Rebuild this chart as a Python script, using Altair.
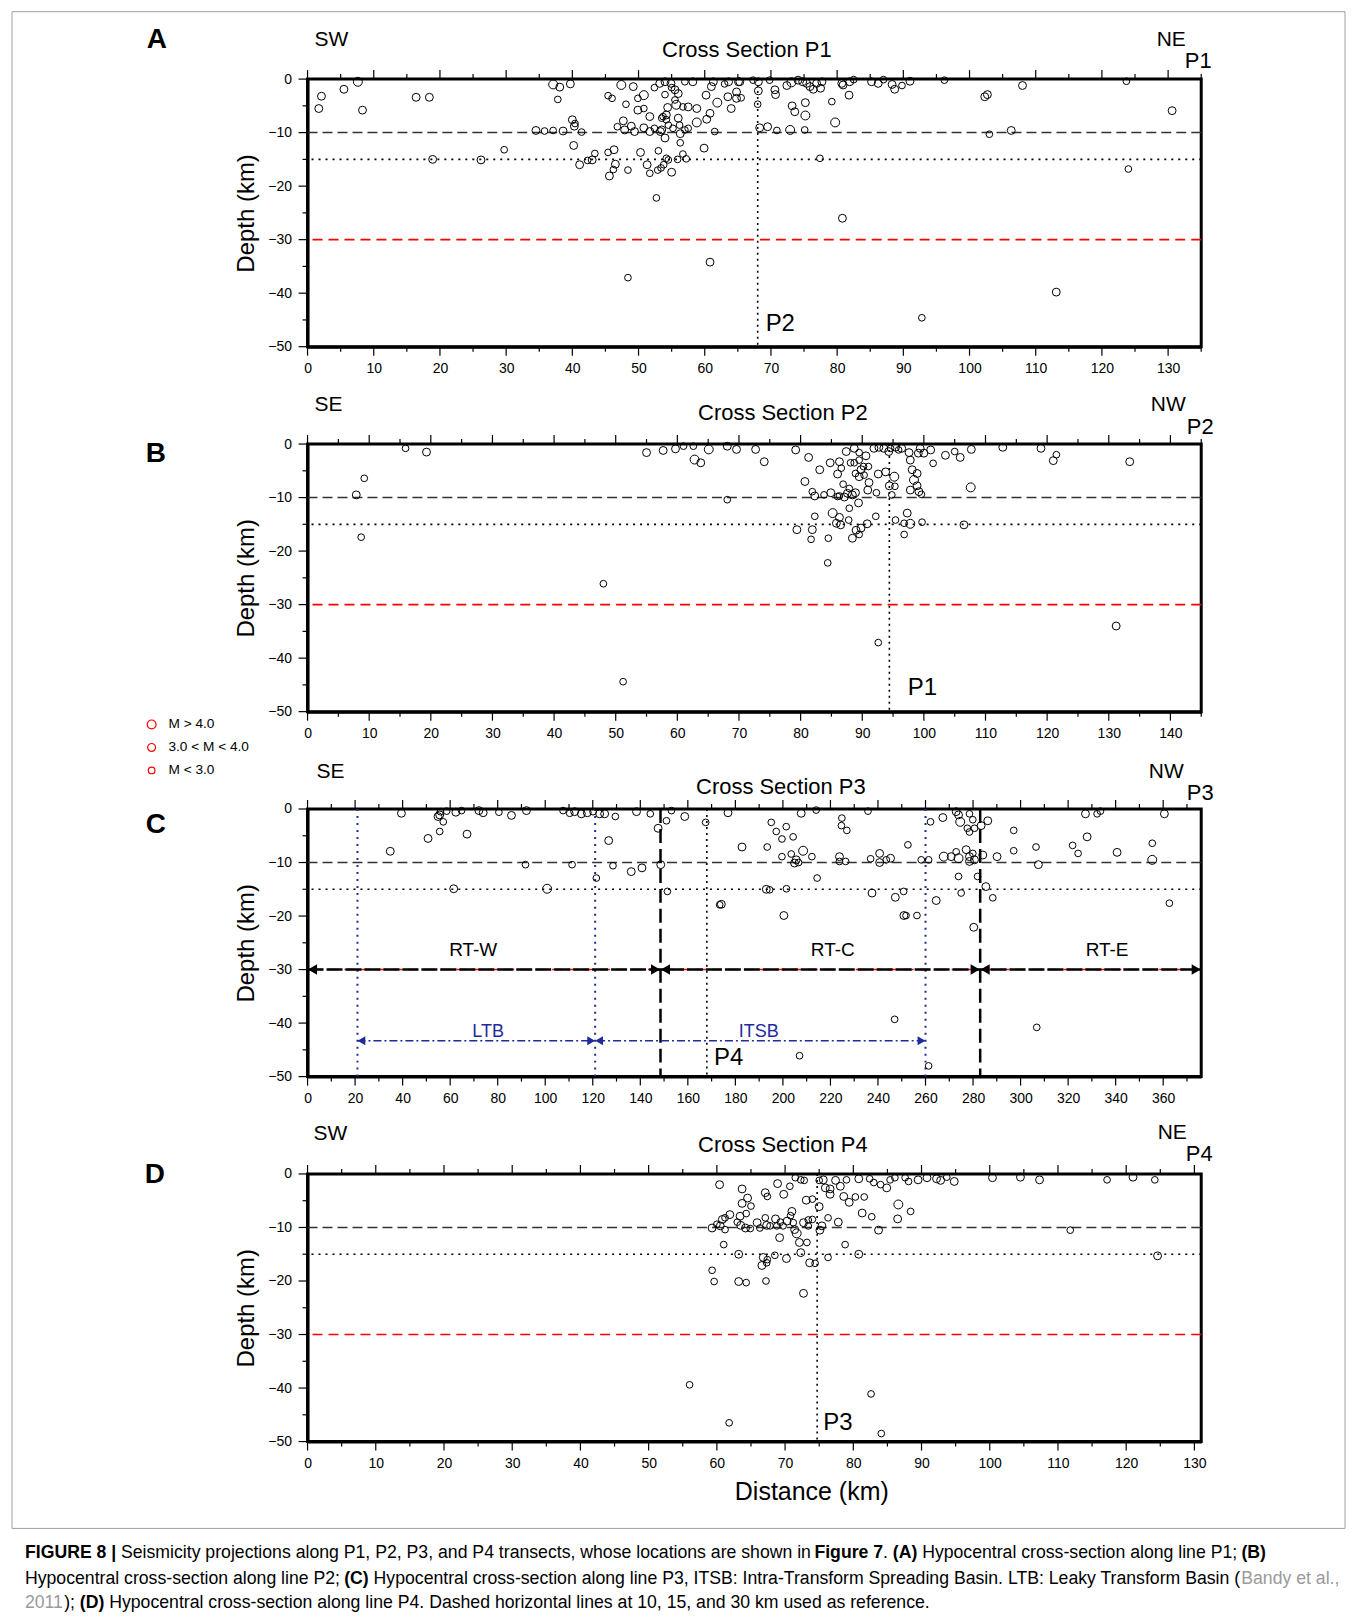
import altair as alt
import pandas as pd

FONT = "Liberation Sans, Arial, Helvetica, sans-serif"
BLUE = "#1f2a9c"

MAG_NAMES = ["M > 4.0", "3.0 < M < 4.0", "M < 3.0"]
MAG_CODE = {3: "M > 4.0", 2: "3.0 < M < 4.0", 1: "M < 3.0"}
MAG_SIZES = [80, 45, 18]

# (distance km, depth km, magnitude class 3/2/1)
A_events = [
    (2.1, -3.2, 2), (1.7, -5.5, 2), (5.5, -1.9, 2), (7.6, -0.5, 3), (8.3, -5.8, 2), (16.4, -3.4, 2), (18.4, -3.4, 2),
    (18.9, -15.0, 2), (26.2, -15.1, 2), (29.7, -13.2, 1), (34.5, -9.6, 2), (35.8, -9.7, 1), (37.1, -9.6, 1),
    (38.6, -9.7, 2), (37.1, -1.0, 3), (38.1, -1.5, 2), (37.8, -3.8, 1), (39.7, -0.9, 2), (40.0, -7.6, 2),
    (40.4, -8.3, 1), (40.3, -8.8, 2), (41.4, -9.9, 1), (40.2, -12.4, 2), (41.1, -16.0, 2), (42.3, -15.2, 1),
    (43.0, -15.1, 2), (43.4, -13.9, 1), (45.4, -13.7, 1), (46.3, -13.2, 2), (46.5, -15.9, 2), (46.2, -16.9, 1),
    (45.6, -18.1, 2), (48.4, -17.0, 1), (50.3, -13.7, 2), (51.3, -16.0, 2), (51.7, -17.6, 1), (52.7, -22.2, 1),
    (52.9, -17.0, 1), (53.4, -16.6, 1), (53.8, -16.0, 1), (55.0, -17.4, 2), (54.2, -14.8, 1), (54.5, -15.1, 1),
    (55.9, -15.0, 1), (56.7, -14.0, 1), (57.2, -14.9, 1), (53.0, -13.4, 1), (56.3, -11.9, 1), (59.9, -12.9, 2),
    (47.7, -7.8, 2), (46.8, -8.9, 1), (47.9, -9.5, 2), (48.9, -8.8, 2), (49.4, -9.8, 2), (50.8, -9.1, 2),
    (51.7, -9.8, 2), (52.4, -9.2, 1), (53.3, -9.8, 2), (54.0, -11.0, 2), (54.5, -8.6, 1), (55.2, -9.2, 1),
    (56.3, -10.2, 2), (57.5, -9.2, 1), (58.8, -8.1, 3), (61.5, -9.8, 1), (60.3, -7.5, 2), (60.8, -6.4, 2),
    (61.9, -4.4, 3), (60.2, -3.0, 2), (61.0, -1.4, 2), (64.0, -5.5, 2), (63.5, -3.3, 2), (58.2, -0.5, 2),
    (57.0, -0.5, 1), (63.0, -0.9, 1), (65.1, -0.5, 2), (49.9, -3.6, 1), (50.8, -3.0, 3), (49.9, -5.8, 2),
    (50.8, -5.5, 1), (51.7, -7.0, 2), (53.7, -7.0, 1), (54.4, -5.3, 2), (55.7, -4.8, 3), (56.7, -5.2, 1),
    (57.5, -5.2, 2), (58.8, -5.5, 2), (54.2, -6.7, 2), (47.4, -1.1, 3), (49.2, -1.4, 2), (48.1, -4.7, 1),
    (45.4, -3.1, 1), (46.0, -3.6, 1), (53.2, -0.8, 2), (54.0, -0.5, 2), (54.9, -0.8, 2), (55.0, -1.6, 1),
    (55.5, -2.0, 2), (56.0, -2.7, 2), (52.4, -1.6, 1), (54.0, -2.9, 1), (55.5, -3.9, 1), (53.5, -7.3, 1),
    (56.0, -7.3, 2), (56.2, -8.6, 1), (57.0, -9.5, 1), (53.5, -9.5, 2), (54.2, -7.6, 1),
    (64.8, -2.4, 2), (64.8, -3.6, 2), (65.5, -3.5, 1), (63.6, -0.5, 2), (65.3, -0.5, 2), (61.3, -0.5, 2),
    (68.0, -4.7, 1), (68.1, -2.2, 2), (68.1, -0.5, 2), (67.3, -0.2, 1), (69.8, -0.2, 1), (68.3, -9.1, 2),
    (69.5, -8.9, 2), (70.9, -9.6, 1), (72.9, -9.5, 3), (75.1, -9.5, 1), (70.6, -2.0, 2), (70.7, -2.9, 2),
    (72.4, -1.2, 2), (73.1, -0.6, 3), (74.1, -0.2, 2), (74.8, -0.5, 2), (75.4, -0.8, 2), (75.9, -1.4, 2),
    (76.4, -1.9, 2), (76.9, -0.8, 2), (77.5, -1.7, 2), (77.7, -0.5, 2), (73.2, -5.0, 2), (73.6, -6.1, 2),
    (75.2, -4.4, 2), (75.2, -6.8, 3), (79.2, -4.2, 1), (79.7, -8.1, 3), (77.4, -14.8, 1), (80.8, -26.0, 2),
    (80.7, -0.8, 2), (81.9, -0.5, 2), (82.5, -0.1, 1), (80.9, -1.1, 2), (81.8, -3.0, 2), (85.2, -0.5, 2),
    (86.2, -0.8, 2), (87.0, -0.1, 1), (88.3, -1.0, 2), (88.7, -1.9, 2), (89.8, -1.2, 1), (91.0, -0.4, 2),
    (96.2, -0.2, 1), (102.3, -3.3, 2), (102.7, -2.9, 2), (103.0, -10.3, 1), (106.3, -9.6, 2), (108.0, -1.2, 2),
    (123.7, -0.4, 1), (124.0, -16.8, 1), (130.6, -5.9, 2), (48.4, -37.1, 1), (60.8, -34.2, 2), (92.8, -44.6, 1),
    (113.1, -39.8, 2),
]

B_events = [
    (7.9, -9.5, 2), (9.2, -6.4, 1), (8.7, -17.4, 1), (15.9, -0.8, 1), (19.3, -1.5, 2), (48.0, -26.1, 1),
    (51.2, -44.4, 1), (84.4, -22.2, 1), (92.6, -37.1, 1), (131.2, -34.0, 2),
    (55.0, -1.6, 2), (57.7, -1.2, 2), (59.7, -0.9, 2), (61.0, -0.4, 1), (62.6, -0.4, 1), (62.8, -2.9, 3),
    (63.8, -3.5, 2), (65.1, -1.0, 3), (68.1, -0.4, 2), (69.6, -1.0, 2), (72.7, -1.0, 2), (74.1, -3.3, 2),
    (68.1, -10.4, 1), (79.2, -1.1, 2), (81.3, -2.5, 2), (80.7, -7.0, 2), (83.1, -4.8, 2), (84.8, -3.5, 2),
    (81.9, -8.9, 1), (82.3, -9.7, 2), (83.8, -9.5, 1), (84.9, -9.1, 2), (86.0, -5.6, 2), (86.6, -4.5, 1),
    (86.9, -7.5, 1), (86.3, -9.7, 1), (87.1, -9.9, 2), (87.6, -9.2, 2), (87.9, -8.3, 1), (88.4, -9.5, 2),
    (88.9, -9.1, 2), (89.4, -11.0, 2), (87.9, -12.0, 1), (86.3, -3.3, 2), (87.4, -1.4, 2), (88.7, -0.8, 2),
    (89.5, -1.6, 1), (90.6, -2.2, 2), (88.1, -3.5, 1), (88.7, -3.5, 1), (89.5, -3.0, 1), (90.2, -4.2, 1),
    (89.8, -4.8, 2), (91.0, -4.2, 1), (89.5, -6.1, 2), (90.3, -5.8, 1), (88.9, -5.5, 1), (91.1, -7.2, 2),
    (90.9, -8.6, 2), (92.3, -9.1, 1), (92.6, -5.6, 2), (93.8, -5.2, 2), (95.2, -6.1, 3), (94.4, -7.8, 2),
    (95.3, -7.9, 1), (94.8, -9.5, 1), (91.9, -0.8, 2), (92.7, -0.6, 2), (93.5, -0.8, 2), (94.3, -1.4, 2),
    (94.6, -0.8, 1), (95.4, -0.6, 2), (95.9, -1.1, 1), (96.4, -0.8, 2), (97.6, -1.6, 2), (97.8, -3.0, 2),
    (98.1, -4.8, 2), (98.4, -6.7, 3), (98.9, -7.8, 2), (99.2, -8.9, 2), (97.8, -8.6, 2), (98.9, -5.5, 2),
    (99.6, -9.4, 1), (99.1, -1.7, 2), (100.0, -1.7, 2), (101.1, -1.1, 2), (99.4, -0.8, 2), (97.3, -12.9, 2),
    (97.8, -14.9, 3), (99.7, -14.6, 1), (96.8, -14.8, 1), (95.4, -14.2, 1), (96.8, -16.9, 1), (92.2, -13.5, 1),
    (90.8, -14.9, 2), (89.8, -15.7, 2), (89.0, -16.1, 2), (89.5, -16.9, 1), (88.4, -17.6, 2), (87.8, -14.2, 1),
    (86.3, -13.7, 2), (85.2, -12.9, 3), (85.8, -14.8, 2), (86.5, -15.1, 2), (84.5, -17.6, 1), (81.9, -16.0, 2),
    (82.3, -13.5, 1), (81.7, -17.8, 1), (79.4, -16.0, 2), (86.0, -9.8, 1),
    (103.5, -2.1, 2), (105.9, -2.5, 2), (107.7, -1.0, 2), (112.8, -0.6, 2), (119.0, -0.8, 2), (121.0, -3.1, 2),
    (121.5, -2.0, 1), (133.4, -3.3, 2), (107.6, -8.1, 3), (106.5, -15.1, 2), (105.0, -1.4, 1), (101.5, -3.6, 1),
]

C_events = [
    (39.5, -0.8, 2), (54.9, -1.4, 2), (55.9, -0.5, 1), (55.6, -1.1, 2), (57.1, -2.4, 1), (58.5, -0.4, 1),
    (62.4, -0.6, 2), (64.8, -0.3, 1), (72.1, -0.3, 2), (73.9, -0.7, 2), (80.5, -0.6, 1), (85.8, -1.2, 2),
    (92.1, -0.3, 2), (107.5, -0.3, 1), (110.3, -0.8, 1), (112.4, -0.5, 2), (115.2, -0.9, 2), (117.7, -0.7, 2),
    (120.1, -0.5, 1), (122.9, -0.9, 2), (125.0, -0.9, 2), (129.5, -1.4, 1), (138.4, -0.5, 2), (144.2, -0.9, 1),
    (147.5, -3.6, 2), (151.0, -2.2, 1), (158.7, -1.4, 2), (167.5, -2.5, 1), (176.9, -0.7, 2), (153.1, -0.3, 1),
    (50.7, -5.5, 2), (55.6, -4.2, 1), (67.1, -4.7, 2), (34.8, -7.9, 2), (126.7, -5.9, 2), (91.7, -10.4, 1),
    (111.3, -10.4, 1), (128.5, -10.6, 1), (136.2, -11.7, 2), (140.7, -11.0, 2), (148.6, -10.4, 2),
    (121.5, -12.9, 1), (61.5, -14.9, 2), (100.8, -14.9, 3), (151.4, -15.4, 1), (173.4, -17.9, 1),
    (195.1, -2.5, 1), (197.2, -4.2, 1), (201.4, -3.3, 1), (199.6, -5.6, 1), (204.3, -5.2, 1), (207.7, -0.8, 2),
    (214.0, -0.2, 1), (182.8, -7.1, 2), (193.4, -7.1, 1), (199.6, -8.9, 1), (203.5, -8.4, 1), (205.6, -9.5, 2),
    (206.6, -10.0, 1), (208.5, -7.8, 3), (212.2, -8.9, 1), (204.9, -10.1, 2), (224.8, -1.7, 1), (224.6, -3.1, 1),
    (226.9, -4.0, 1), (223.8, -8.9, 2), (223.8, -9.8, 1), (226.4, -9.8, 1), (235.8, -0.4, 1), (236.9, -9.3, 1),
    (240.7, -8.3, 2), (240.7, -10.0, 2), (243.5, -9.5, 1), (245.3, -9.2, 2), (252.6, -6.7, 1), (258.2, -9.5, 1),
    (261.3, -9.5, 1), (262.1, -2.4, 1), (267.3, -1.6, 2), (272.9, -0.5, 2), (273.9, -1.1, 2), (274.6, -2.4, 3),
    (278.5, -0.9, 1), (279.9, -2.0, 1), (277.6, -3.6, 1), (278.5, -4.3, 1), (280.6, -3.6, 1), (283.4, -3.1, 2),
    (286.2, -2.2, 2), (267.7, -8.9, 3), (270.8, -8.9, 2), (272.9, -8.0, 1), (273.9, -9.2, 3), (277.1, -7.6, 2),
    (278.5, -8.9, 2), (279.9, -8.3, 1), (278.5, -9.8, 2), (280.6, -9.5, 2), (284.1, -8.6, 2), (290.1, -8.9, 2),
    (297.1, -4.0, 1), (297.1, -7.8, 1), (306.5, -7.1, 1), (307.5, -10.4, 2), (321.9, -6.8, 1), (324.2, -8.3, 1),
    (328.0, -5.2, 2), (327.3, -0.9, 2), (332.2, -0.9, 1), (333.6, -0.4, 1), (340.6, -8.1, 2), (355.4, -6.4, 1),
    (355.4, -9.5, 3), (360.5, -0.9, 2), (362.6, -17.6, 1), (214.4, -12.9, 1), (193.0, -15.0, 2), (194.4, -15.1, 1),
    (201.5, -14.9, 1), (200.4, -19.9, 2), (237.5, -15.7, 2), (247.3, -16.5, 2), (250.8, -15.4, 1),
    (250.9, -19.9, 2), (251.8, -19.9, 1), (256.4, -19.9, 1), (174.1, -17.8, 2), (264.5, -17.1, 2),
    (273.9, -12.6, 1), (275.0, -15.7, 1), (281.9, -12.6, 1), (285.4, -14.5, 2), (288.3, -16.6, 1),
    (280.3, -22.1, 2), (247.0, -39.3, 1), (306.8, -40.8, 1), (207.0, -46.1, 1), (261.3, -48.0, 1),
]

D_events = [
    (60.4, -2.0, 2), (63.7, -2.8, 2), (64.5, -4.5, 2), (63.7, -5.5, 2), (65.0, -6.0, 1), (67.1, -3.5, 2),
    (67.4, -4.2, 1), (68.9, -1.8, 2), (69.8, -3.8, 2), (70.7, -2.3, 1), (71.5, -0.7, 1), (72.3, -1.1, 1),
    (72.8, -1.2, 1), (73.1, -4.9, 2), (74.0, -4.7, 1), (75.0, -6.1, 2), (75.0, -1.2, 1), (75.6, -1.1, 2),
    (75.9, -2.6, 2), (76.6, -2.8, 2), (76.6, -3.8, 2), (77.4, -1.2, 2), (78.1, -2.3, 2), (78.6, -4.2, 2),
    (79.4, -5.3, 2), (80.3, -4.3, 1), (81.6, -4.3, 1), (79.0, -1.1, 1), (80.8, -0.9, 2), (82.4, -0.9, 1),
    (83.0, -1.6, 1), (84.0, -2.0, 1), (84.9, -2.6, 2), (85.4, -1.1, 1), (86.1, -0.7, 1), (87.6, -0.7, 1),
    (88.1, -1.4, 1), (89.5, -1.1, 2), (90.8, -0.7, 2), (92.2, -0.9, 2), (86.6, -5.7, 3), (88.4, -7.0, 1),
    (81.3, -7.3, 2), (82.7, -8.0, 1), (86.5, -8.4, 2), (59.3, -10.1, 2), (60.0, -9.4, 1), (60.8, -8.5, 2),
    (61.2, -8.2, 1), (61.9, -7.6, 2), (61.2, -10.4, 1), (60.5, -9.7, 2), (63.4, -7.9, 2), (64.3, -7.4, 1),
    (63.0, -9.0, 1), (63.5, -9.6, 2), (64.2, -10.1, 2), (64.9, -10.2, 1), (65.9, -9.1, 2), (66.3, -10.1, 1),
    (67.1, -8.2, 1), (67.3, -9.6, 2), (67.8, -9.7, 1), (68.6, -8.4, 2), (68.8, -9.7, 1), (69.3, -9.0, 1),
    (69.7, -9.7, 1), (70.3, -8.8, 2), (70.8, -7.8, 1), (71.0, -7.0, 2), (71.2, -9.1, 1), (71.4, -10.4, 2),
    (71.7, -11.1, 3), (72.7, -9.1, 2), (73.4, -8.6, 1), (73.4, -9.7, 1), (74.0, -8.5, 1), (75.1, -10.5, 2),
    (75.4, -9.7, 2), (76.3, -8.2, 1), (77.8, -9.0, 2), (83.7, -10.5, 2), (69.2, -11.9, 2), (72.1, -12.8, 2),
    (73.2, -12.8, 1), (61.0, -13.2, 1), (78.8, -13.2, 1), (63.2, -15.0, 2), (66.8, -15.6, 2), (67.3, -16.6, 1),
    (68.5, -15.2, 1), (70.2, -15.8, 2), (72.3, -14.7, 2), (73.6, -16.6, 2), (74.4, -16.7, 1), (76.3, -15.6, 1),
    (80.8, -15.0, 2),
    (92.8, -1.2, 2), (93.7, -0.6, 1), (94.8, -1.4, 2), (100.4, -0.7, 2), (104.5, -0.6, 2), (107.3, -1.1, 2),
    (117.2, -1.1, 1), (121.0, -0.6, 2), (124.2, -1.1, 1), (111.8, -10.5, 1),
    (59.3, -18.0, 1), (59.6, -20.1, 1), (63.2, -20.1, 2), (64.3, -20.3, 1), (67.2, -20.0, 1), (66.6, -17.1, 2),
    (67.4, -16.0, 1), (72.7, -22.3, 2), (56.0, -39.4, 1), (82.6, -41.1, 1), (61.8, -46.5, 1), (84.1, -48.5, 1),
    (124.6, -15.3, 2),
]

# axis extents and tick values
A_XMAX, B_XMAX, C_XMAX, D_XMAX = 135, 145, 376, 131
A_XTICKS = list(range(0, 136, 5))
B_XTICKS = list(range(0, 146, 5))
C_XTICKS = list(range(0, 377, 10))
D_XTICKS = list(range(0, 132, 5))
DEPTH_TICKS = list(range(0, -51, -5))
REF_DEPTHS = [-10, -15, -30]

# cross-line positions (intersection with the other profiles)
A_CROSS, B_CROSS, C_CROSS, D_CROSS = 68.0, 94.4, 168.0, 74.7

# P3 segmentation
RT_BOUNDS = [0, 148.5, 283.0, 376]
RT_NAMES = ["RT-W", "RT-C", "RT-E"]
RT_LABEL_X = [69.7, 221.0, 336.4]
BASIN_BOUNDS = [21.0, 121.0, 260.0]
BASIN_NAMES = ["LTB", "ITSB"]
BASIN_LABEL_X = [76.0, 189.8]

W, H = 895, 268
GAP = 97.5
MAJOR_LEN, MINOR_LEN = 9, 5


def label_px(text, px, py, size, weight="normal", align="center", color="black", font=FONT, baseline="middle"):
    return alt.Chart(pd.DataFrame({"t": [text]})).mark_text(
        align=align, baseline=baseline, fontSize=size, fontWeight=weight, color=color, font=font
    ).encode(text="t:N", x=alt.value(px), y=alt.value(py))


def panel(events, xmax, xticks, xmajor, cross_x, cross_label, cross_lab_pos, heads, extra=None,
          legend=None, pre=None):
    xs = alt.Scale(domain=[0, xmax], nice=False, zero=False)
    ys = alt.Scale(domain=[-50, 0], nice=False, zero=False)
    df = pd.DataFrame(events, columns=["dist", "depth", "m"])
    df["mag"] = df["m"].map(MAG_CODE)

    def X(field="dist"):
        return alt.X(f"{field}:Q", scale=xs)

    def Y(field="depth"):
        return alt.Y(f"{field}:Q", scale=ys)

    bottom_axis = alt.Axis(
        values=xticks, labelExpr=f"datum.value % {xmajor} === 0 ? datum.label : ''",
        ticks=False, tickSize=0, domain=True, domainWidth=3, domainColor="black", grid=False,
        labelFont=FONT, labelFontSize=14, labelColor="black", labelPadding=15, labelFlush=False,
        labelOverlap=False, title=None,
    )
    left_axis = alt.Axis(
        values=DEPTH_TICKS, labelExpr="datum.value % 10 === 0 ? datum.label : ''",
        ticks=False, tickSize=0, domain=True, domainWidth=3, domainColor="black", grid=False,
        labelFont=FONT, labelFontSize=14, labelColor="black", labelPadding=16, labelFlush=False,
        labelOverlap=False, title="Depth (km)", titleFont=FONT, titleFontSize=24,
        titleFontWeight="normal", titleColor="black", titlePadding=9,
    )

    layers = []
    if pre is not None:
        layers += pre
    layers.append(alt.Chart(pd.DataFrame({"depth": [REF_DEPTHS[0]]})).mark_rule(
        color="#333333", strokeWidth=1.5, strokeDash=[10, 5]).encode(y=Y()))
    layers.append(alt.Chart(pd.DataFrame({"depth": [REF_DEPTHS[1]]})).mark_rule(
        color="black", strokeWidth=1.6, strokeDash=[2, 5]).encode(y=Y()))
    layers.append(alt.Chart(pd.DataFrame({"depth": [REF_DEPTHS[2]]})).mark_rule(
        color="#ff0000", strokeWidth=1.6, strokeDash=[10, 6]).encode(y=Y()))
    layers.append(alt.Chart(pd.DataFrame({"dist": [cross_x]})).mark_rule(
        color="black", strokeWidth=1.6, strokeDash=[2, 4]).encode(x=X()))
    # ticks: long at labelled values, short in between; top and bottom, plus left
    xmaj = pd.DataFrame({"dist": [v for v in xticks if v % xmajor == 0]})
    xmin = pd.DataFrame({"dist": [v for v in xticks if v % xmajor != 0]})
    for d, ln in ((xmaj, MAJOR_LEN), (xmin, MINOR_LEN)):
        layers.append(alt.Chart(d).mark_rule(color="black", strokeWidth=1.2).encode(
            x=X(), y=alt.value(H), y2=alt.value(H + ln)))
        layers.append(alt.Chart(d).mark_rule(color="black", strokeWidth=1.2).encode(
            x=X(), y=alt.value(0), y2=alt.value(-ln)))
    ymaj = pd.DataFrame({"depth": [v for v in DEPTH_TICKS if v % 10 == 0]})
    ymin = pd.DataFrame({"depth": [v for v in DEPTH_TICKS if v % 10 != 0]})
    for d, ln in ((ymaj, MAJOR_LEN), (ymin, MINOR_LEN)):
        layers.append(alt.Chart(d).mark_rule(color="black", strokeWidth=1.2).encode(
            y=Y(), x=alt.value(0), x2=alt.value(-ln)))
    if extra is not None:
        layers += extra(X, Y)
    layers.append(alt.Chart(df).mark_point(
        shape="circle", filled=False, color="black", strokeWidth=1, opacity=1
    ).encode(
        x=alt.X("dist:Q", scale=xs, axis=bottom_axis),
        y=alt.Y("depth:Q", scale=ys, axis=left_axis),
        size=alt.Size("mag:O", sort=MAG_NAMES, scale=alt.Scale(domain=MAG_NAMES, range=MAG_SIZES),
                      legend=legend),
    ))
    layers.append(alt.Chart(pd.DataFrame({"dist": [cross_lab_pos[0]], "depth": [cross_lab_pos[1]],
                                          "t": [cross_label]})).mark_text(
        align="left", baseline="middle", fontSize=24, font=FONT, color="black"
    ).encode(x=X(), y=Y(), text="t:N"))
    for h in heads:
        layers.append(label_px(*h[:4], **h[4]))
    return alt.layer(*layers).properties(width=W, height=H)


def c_extra(X, Y):
    out = []
    for bx in BASIN_BOUNDS:
        out.append(alt.Chart(pd.DataFrame({"dist": [bx]})).mark_rule(
            color=BLUE, strokeWidth=2, strokeDash=[2, 5]).encode(x=X()))
    for bx in RT_BOUNDS[1:3]:
        out.append(alt.Chart(pd.DataFrame({"dist": [bx]})).mark_rule(
            color="black", strokeWidth=2.5, strokeDash=[14, 6]).encode(x=X()))
    seg = pd.DataFrame({"dist": [RT_BOUNDS[0]], "dist2": [RT_BOUNDS[-1]], "depth": [-30]})
    out.append(alt.Chart(seg).mark_rule(color="black", strokeWidth=2.5, strokeDash=[16, 3]).encode(
        x=X(), x2="dist2:Q", y=Y()))
    bseg = pd.DataFrame({"dist": [BASIN_BOUNDS[0]], "dist2": [BASIN_BOUNDS[-1]], "depth": [-43.3]})
    out.append(alt.Chart(bseg).mark_rule(color=BLUE, strokeWidth=1.6, strokeDash=[8, 3, 2, 3]).encode(
        x=X(), x2="dist2:Q", y=Y()))
    rh = pd.DataFrame({"dist": RT_BOUNDS[1:], "depth": [-30] * 3})
    lh = pd.DataFrame({"dist": RT_BOUNDS[:-1], "depth": [-30] * 3})
    out.append(alt.Chart(rh).mark_point(shape="triangle-right", filled=True, color="black", size=110,
                                        opacity=1, xOffset=-5).encode(x=X(), y=Y()))
    out.append(alt.Chart(lh).mark_point(shape="triangle-left", filled=True, color="black", size=110,
                                        opacity=1, xOffset=5).encode(x=X(), y=Y()))
    brh = pd.DataFrame({"dist": BASIN_BOUNDS[1:], "depth": [-43.3] * 2})
    blh = pd.DataFrame({"dist": BASIN_BOUNDS[:-1], "depth": [-43.3] * 2})
    out.append(alt.Chart(brh).mark_point(shape="triangle-right", filled=True, color=BLUE, size=80,
                                         opacity=1, xOffset=-4).encode(x=X(), y=Y()))
    out.append(alt.Chart(blh).mark_point(shape="triangle-left", filled=True, color=BLUE, size=80,
                                         opacity=1, xOffset=4).encode(x=X(), y=Y()))
    rtl = pd.DataFrame({"dist": RT_LABEL_X, "depth": [-26.3] * 3, "t": RT_NAMES})
    out.append(alt.Chart(rtl).mark_text(fontSize=19, font=FONT, color="black", baseline="middle").encode(
        x=X(), y=Y(), text="t:N"))
    bl = pd.DataFrame({"dist": BASIN_LABEL_X, "depth": [-41.6] * 2, "t": BASIN_NAMES})
    out.append(alt.Chart(bl).mark_text(fontSize=18, font=FONT, color=BLUE, baseline="middle").encode(
        x=X(), y=Y(), text="t:N"))
    return out


# frame around the figure (panel A coordinates)
frame = alt.Chart(pd.DataFrame({"t": [0]})).mark_rect(
    fill="transparent", stroke="#a0a0a0", strokeWidth=1
).encode(x=alt.value(-296), x2=alt.value(1039), y=alt.value(-67.5), y2=alt.value(1451.5))

legendB = alt.Legend(
    orient="none", legendX=-163, legendY=274, title=None, symbolStrokeColor="red",
    symbolFillColor="transparent", symbolStrokeWidth=1.2, symbolType="circle", labelFont=FONT,
    labelFontSize=13.7, labelColor="black", labelOffset=10, rowPadding=8, padding=0, labelLimit=300,
)

# caption
REG = {" ": 278, "(": 333, ")": 333, ",": 278, "-": 333, ".": 278, ":": 278, ";": 278, "|": 260,
       "A": 667, "B": 667, "C": 722, "D": 722, "E": 667, "F": 611, "G": 778, "H": 722, "I": 278, "J": 500,
       "K": 667, "L": 556, "M": 833, "N": 722, "O": 778, "P": 667, "Q": 778, "R": 722, "S": 667, "T": 611,
       "U": 722, "V": 667, "W": 944, "X": 667, "Y": 667, "Z": 611, "a": 556, "b": 556, "c": 500, "d": 556,
       "e": 556, "f": 278, "g": 556, "h": 556, "i": 222, "j": 222, "k": 500, "l": 222, "m": 833, "n": 556,
       "o": 556, "p": 556, "q": 556, "r": 333, "s": 500, "t": 278, "u": 556, "v": 500, "w": 722, "x": 500,
       "y": 500, "z": 500}
BOLD = {" ": 278, "(": 333, ")": 333, ".": 278, "|": 280, "A": 722, "B": 722, "C": 722, "D": 722, "E": 667,
        "F": 611, "G": 778, "I": 278, "R": 722, "U": 722, "a": 556, "e": 556, "g": 611, "i": 278, "r": 389,
        "u": 611}
CAPTION = [
    [("FIGURE 8", "b"), (" | ", "b"),
     ("Seismicity projections along P1, P2, P3, and P4 transects, whose locations are shown in ", "r"),
     ("Figure 7", "b"), (". ", "r"), ("(A)", "b"), (" Hypocentral cross-section along line P1; ", "r"),
     ("(B)", "b")],
    [("Hypocentral cross-section along line P2; ", "r"), ("(C)", "b"),
     (" Hypocentral cross-section along line P3, ITSB: Intra-Transform Spreading Basin. LTB: Leaky Transform Basin (", "r"),
     ("Bandy et al.,", "g")],
    [("2011", "g"), ("); ", "r"), ("(D)", "b"),
     (" Hypocentral cross-section along line P4. Dashed horizontal lines at 10, 15, and 30 km used as reference.", "r")],
]
CAP_FS = 17.7
CAP_X0 = -283
CAP_Y = [385, 411, 435]


def width(s, bold):
    tab = BOLD if bold else REG
    return CAP_FS * sum(tab.get(c, 556) for c in s) / 1000.0 * 0.997


caption_layers = []
for line, yy in zip(CAPTION, CAP_Y):
    cur = CAP_X0
    for seg, st in line:
        lead = len(seg) - len(seg.lstrip(" "))
        trail = len(seg) - len(seg.rstrip(" "))
        cur += lead * 0.278 * CAP_FS
        s = seg.strip(" ")
        caption_layers.append(label_px(
            s, cur, yy, CAP_FS, weight="bold" if st == "b" else "normal", align="left",
            color="#9a9a9a" if st == "g" else "black", baseline="alphabetic"))
        cur += width(s, st == "b")
        cur += trail * 0.278 * CAP_FS

pA = panel(
    A_events, A_XMAX, A_XTICKS, 10, A_CROSS, "P2", (69.2, -45.8),
    heads=[("A", -151, -39.5, 28, {"weight": "bold"}), ("SW", 7, -39.5, 21, {"align": "left"}),
           ("Cross Section P1", 440, -29.5, 22, {}), ("NE", 865, -39.5, 21, {}), ("P1", 892, -18.5, 22, {})],
    pre=[frame],
)
pB = panel(
    B_events, B_XMAX, B_XTICKS, 10, B_CROSS, "P1", (97.4, -45.5),
    heads=[("B", -152, 10, 28, {"weight": "bold"}), ("SE", 7, -39, 21, {"align": "left"}),
           ("Cross Section P2", 476, -31, 22, {}), ("NW", 862, -39, 21, {}), ("P2", 894, -17, 22, {})],
    legend=legendB,
)
pC = panel(
    C_events, C_XMAX, C_XTICKS, 20, C_CROSS, "P4", (171.0, -46.6),
    heads=[("C", -152, 16, 28, {"weight": "bold"}), ("SE", 9, -37, 21, {"align": "left"}),
           ("Cross Section P3", 474, -22, 22, {}), ("NW", 860, -37, 21, {}), ("P3", 894, -16, 22, {})],
    extra=c_extra,
)
pD = panel(
    D_events, D_XMAX, D_XTICKS, 10, D_CROSS, "P3", (75.6, -46.6),
    heads=[("D", -153, 1, 28, {"weight": "bold"}), ("SW", 6, -40, 21, {"align": "left"}),
           ("Cross Section P4", 476, -29, 22, {}), ("NE", 866, -41, 21, {}), ("P4", 893, -20, 22, {}),
           ("Distance (km)", 505, 319, 25, {})],
)
pD = alt.layer(pD, *caption_layers)

RES = dict(x="independent", y="independent", size="independent")
chart = alt.vconcat(pA, pB, pC, pD, spacing=GAP, bounds="flush").resolve_scale(**RES).resolve_legend(
    size="independent"
).properties(
    padding={"left": 2, "top": 0, "right": 0, "bottom": 0}
).configure(font=FONT, background="white").configure_view(
    stroke="black", strokeWidth=3
).configure_axis(grid=False)

chart.save("out.html", embed_options={"renderer": "svg", "actions": False})
